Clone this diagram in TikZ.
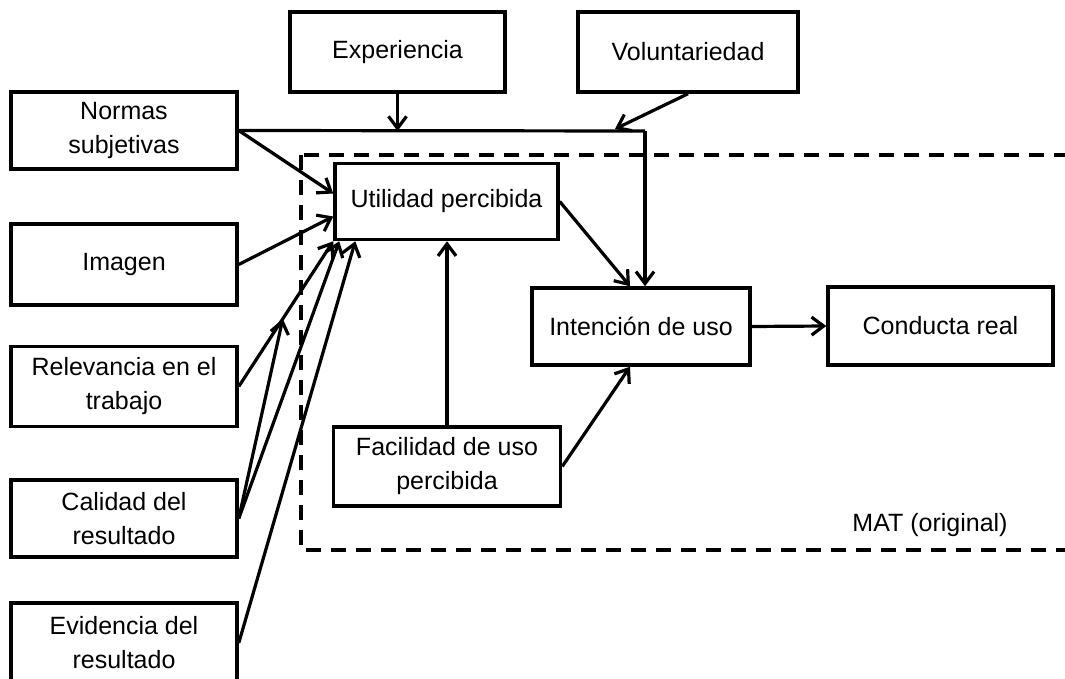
\documentclass[tikz,border=0pt]{standalone}
\usepackage{fontspec}
\setmainfont{Liberation Sans}
\usetikzlibrary{arrows.meta,calc}
\begin{document}
\begin{tikzpicture}[x=1pt,y=-1pt,
  box/.style={draw,line width=3.5pt,rectangle,inner sep=0pt,align=center,
    font=\fontsize{25}{34}\selectfont},
  arr/.style={line width=3.2pt,-{Straight Barb[length=12pt,width=18pt,line width=3.2pt]}},
  link/.style={line width=3.2pt},
  mat/.style={line width=3.8pt,dash pattern=on 15pt off 10pt}]
\useasboundingbox (0,0) rectangle (1065,679);
% model frame
\draw[mat] (301,155) rectangle (1090,550);
\node[font=\fontsize{25}{34}\selectfont] (matlbl) at (930,525) {MAT (original)};
% external determinants
\node[box,minimum width=226pt,minimum height=77pt] (norm) at (124,130.5) {Normas\\subjetivas};
\node[box,minimum width=226pt,minimum height=81pt] (imag) at (124,264.5) {Imagen};
\node[box,minimum width=226pt,minimum height=80pt] (rel) at (124,386.5) {Relevancia en el\\trabajo};
\node[box,minimum width=226pt,minimum height=77pt] (cal) at (124,518.5) {Calidad del\\resultado};
\node[box,minimum width=226pt,minimum height=80pt] (evi) at (124,643) {Evidencia del\\resultado};
\node[box,minimum width=215pt,minimum height=80pt] (exp) at (397.5,52) {Experiencia};
\node[box,minimum width=220pt,minimum height=80pt] (vol) at (688,52) {Voluntariedad};
% core model
\node[box,minimum width=223pt,minimum height=76pt] (util) at (446.5,201.5) {Utilidad percibida};
\node[box,minimum width=218pt,minimum height=77pt] (inte) at (641,326.5) {Intención de uso};
\node[box,minimum width=225pt,minimum height=78pt] (cond) at (940.5,326) {Conducta real};
\node[box,minimum width=227pt,minimum height=79pt] (fac) at (447,466.5) {Facilidad de uso\\percibida};
% connectors
\coordinate (j) at (645,131);
\coordinate (vj) at (615,129);
\draw[link] (norm.east) -- (j);
\draw[arr] (j) -- (j |- inte.north);
\draw[arr] (exp.south) -- (exp.south |- j);
\draw[arr] (vol.south) -- (vj);
\draw[arr] (norm.east) -- ([yshift=8pt]util.west);
\draw[arr] (imag.east) -- ([yshift=-15pt]util.west);
\draw[arr] (rel.east) -- (util.south west);
\coordinate (rm) at ($(rel.east)!0.466!(util.south west)$);
\draw[arr] (cal.east) -- (rm);
\draw[arr] (cal.east) -- ([xshift=6pt]util.south west);
\draw[arr] (evi.east) -- ([xshift=22pt]util.south west);
\draw[arr] (util.east) -- ([xshift=-11pt]inte.north);
\draw[arr] (fac.north) -- (fac.north |- util.south);
\draw[arr] (fac.east) -- ([xshift=-11pt]inte.south);
\draw[arr] (inte.east) -- (cond.west);
\end{tikzpicture}
\end{document}
